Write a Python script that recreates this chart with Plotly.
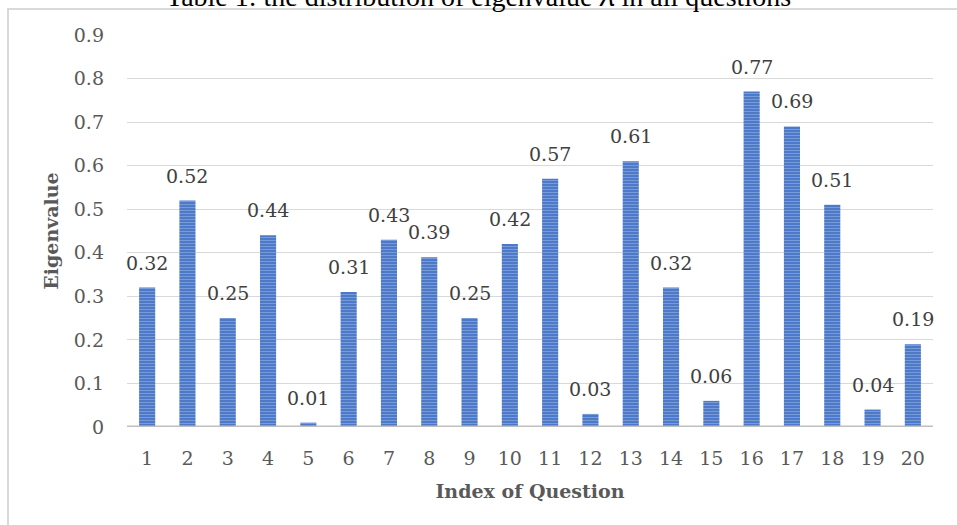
import plotly.graph_objects as go

questions = [str(i) for i in range(1, 21)]
eigenvalues = [0.32, 0.52, 0.25, 0.44, 0.01, 0.31, 0.43, 0.39, 0.25, 0.42,
               0.57, 0.03, 0.61, 0.32, 0.06, 0.77, 0.69, 0.51, 0.04, 0.19]
y_ticks = [0, 0.1, 0.2, 0.3, 0.4, 0.5, 0.6, 0.7, 0.8, 0.9]
y_tick_labels = ["0", "0.1", "0.2", "0.3", "0.4", "0.5", "0.6", "0.7", "0.8", "0.9"]

W, H = 957, 525
ml, mr, mt, mb = 127, 24, 35, 98
pw, ph = W - ml - mr, H - mt - mb

fig = go.Figure()
fig.add_trace(go.Bar(
    x=questions, y=eigenvalues,
    marker=dict(color="#4472C4",
                pattern=dict(shape="-", fgcolor="#A9C3EC", bgcolor="#4472C4",
                             size=3, solidity=0.45),
                line=dict(width=0)),
    width=0.4,
    hoverinfo="x+y",
))

# data labels above each bar (category index positions on the x axis)
for i, v in enumerate(eigenvalues):
    fig.add_annotation(x=i, y=v, xref="x", yref="y", text=f"{v:g}",
                       showarrow=False, xanchor="center", yanchor="middle",
                       yshift=25,
                       font=dict(family="DejaVu Serif", size=19, color="#404040"))

fig.update_layout(
    width=W, height=H,
    margin=dict(l=ml, r=mr, t=mt, b=mb),
    paper_bgcolor="white", plot_bgcolor="white",
    showlegend=False,
    font=dict(family="DejaVu Serif", size=19, color="#595959"),
    xaxis=dict(
        type="category", showgrid=False, showline=False, ticks="",
        range=[-0.5, len(questions) - 0.5],
        tickfont=dict(size=19, color="#595959"),
        ticklabelstandoff=18,
        title=dict(text="<b>Index of Question</b>", standoff=16,
                   font=dict(family="DejaVu Serif", size=19, color="#595959")),
    ),
    yaxis=dict(
        range=[0, 0.9], tickvals=y_ticks, ticktext=y_tick_labels,
        showgrid=True, gridcolor="#D9D9D9", gridwidth=1,
        zeroline=False, showline=False, ticks="",
        ticklabelstandoff=22,
        tickfont=dict(size=19, color="#595959"),
        title=dict(text="<b>Eigenvalue</b>", standoff=10,
                   font=dict(family="DejaVu Serif", size=19, color="#595959")),
    ),
    bargap=0.6,
)

# baseline (category axis line)
fig.add_shape(type="line", xref="paper", yref="y", x0=0, x1=1, y0=0, y1=0,
              line=dict(color="#BFBFBF", width=3))

def px_x(p):
    return (p - ml) / pw

def px_y(p):
    return 1 - (p - mt) / ph

# chart border box (partially outside view)
fig.add_shape(type="rect", xref="paper", yref="paper",
              x0=px_x(8), x1=px_x(990), y0=px_y(560), y1=px_y(9),
              line=dict(color="#D9D9D9", width=2), fillcolor="rgba(0,0,0,0)",
              layer="below")

# caption above the chart (cut off at top of view)
fig.add_annotation(
    xref="paper", yref="paper", x=px_x(478), y=px_y(-3.5),
    text="Table 1: the distribution of eigenvalue 𝜆 in all questions",
    showarrow=False, xanchor="center", yanchor="middle",
    font=dict(family="Liberation Serif", size=28, color="#000000"),
)

fig.write_html("out.html", config={"displayModeBar": False},
               post_script="document.body.style.margin='0';document.body.style.overflow='hidden';")
